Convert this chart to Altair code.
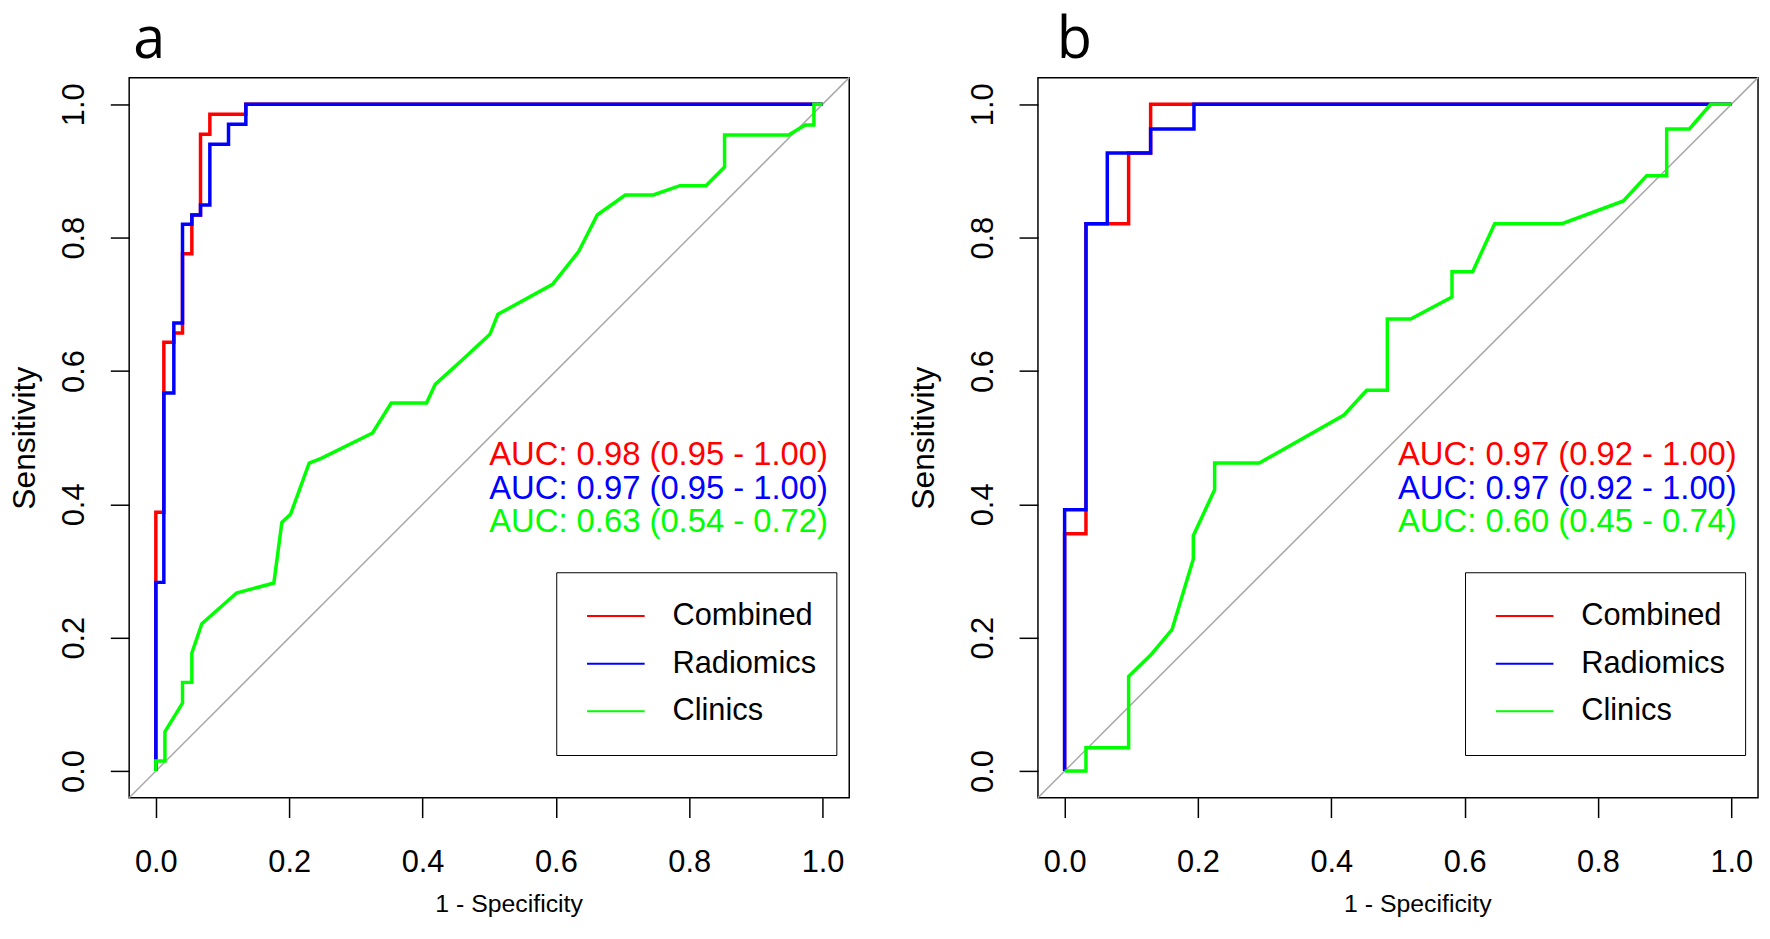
import altair as alt
import pandas as pd

FONT = "Liberation Sans"
TITLE_FONT = "Open Sans"

MODELS = ["Combined", "Radiomics", "Clinics"]
COLORS = ["#FF0000", "#0000FF", "#00FF00"]

AXIS_LIMITS = [-0.04, 1.04]
TICKS = [0.0, 0.2, 0.4, 0.6, 0.8, 1.0]

# ---------------- panel a ----------------
A_COMB_X = [0, 0, 0.012, 0.012, 0.027, 0.027, 0.040, 0.040, 0.054, 0.054, 0.067, 0.067, 0.081, 0.081, 0.135, 0.135, 1.0]
A_COMB_Y = [0, 0.388, 0.388, 0.643, 0.643, 0.657, 0.657, 0.776, 0.776, 0.834, 0.834, 0.955, 0.955, 0.985, 0.985, 1.0, 1.0]

A_RAD_X = [0, 0, 0.012, 0.012, 0.027, 0.027, 0.040, 0.040, 0.054, 0.054, 0.067, 0.067, 0.081, 0.081, 0.109, 0.109, 0.135, 0.135, 1.0]
A_RAD_Y = [0, 0.283, 0.283, 0.567, 0.567, 0.672, 0.672, 0.820, 0.820, 0.834, 0.834, 0.849, 0.849, 0.940, 0.940, 0.970, 0.970, 1.0, 1.0]

A_CLIN_X = [0, 0, 0.0136, 0.0136, 0.040, 0.040, 0.054, 0.054, 0.069, 0.121, 0.177, 0.189, 0.202, 0.230, 0.248, 0.325,
            0.353, 0.406, 0.419, 0.461, 0.501, 0.513, 0.595, 0.634, 0.662, 0.704, 0.746, 0.786, 0.825, 0.853, 0.853,
            0.949, 0.974, 0.987, 0.987, 1.0]
A_CLIN_Y = [0, 0.015, 0.015, 0.059, 0.102, 0.133, 0.133, 0.177, 0.221, 0.267, 0.282, 0.373, 0.385, 0.462, 0.469, 0.507,
            0.552, 0.552, 0.580, 0.618, 0.655, 0.685, 0.730, 0.779, 0.834, 0.864, 0.864, 0.878, 0.878, 0.906, 0.954,
            0.954, 0.969, 0.969, 1.0, 1.0]

A_AUC = ["AUC: 0.98 (0.95 - 1.00)", "AUC: 0.97 (0.95 - 1.00)", "AUC: 0.63 (0.54 - 0.72)"]

# ---------------- panel b ----------------
B_COMB_X = [0, 0, 0.032, 0.032, 0.096, 0.096, 0.129, 0.129, 1.0]
B_COMB_Y = [0, 0.356, 0.356, 0.821, 0.821, 0.927, 0.927, 1.0, 1.0]

B_RAD_X = [0, 0, 0.032, 0.032, 0.064, 0.064, 0.129, 0.129, 0.194, 0.194, 1.0]
B_RAD_Y = [0, 0.392, 0.392, 0.821, 0.821, 0.927, 0.927, 0.963, 0.963, 1.0, 1.0]

B_CLIN_X = [0, 0.032, 0.032, 0.096, 0.096, 0.129, 0.161, 0.193, 0.193, 0.225, 0.225, 0.292, 0.419, 0.453, 0.484,
            0.484, 0.519, 0.581, 0.581, 0.612, 0.645, 0.746, 0.838, 0.873, 0.903, 0.903, 0.937, 0.969, 1.0]
B_CLIN_Y = [0, 0, 0.035, 0.035, 0.142, 0.174, 0.212, 0.318, 0.353, 0.422, 0.462, 0.462, 0.534, 0.571, 0.571,
            0.678, 0.678, 0.711, 0.749, 0.749, 0.821, 0.821, 0.855, 0.893, 0.893, 0.963, 0.963, 1.0, 1.0]

B_AUC = ["AUC: 0.97 (0.92 - 1.00)", "AUC: 0.97 (0.92 - 1.00)", "AUC: 0.60 (0.45 - 0.74)"]

# AUC annotation anchor (data coordinates, as printed by pROC)
AUC_X = 0.5
AUC_Y = [0.50, 0.45, 0.40]


def make_panel(curves, auc_texts, letter, title_dx, y_title_pad):
    rows = []
    for model, (xs, ys) in zip(MODELS, curves):
        for i, (x, y) in enumerate(zip(xs, ys)):
            rows.append({"model": model, "fpr": x, "tpr": y, "idx": i})
    df = pd.DataFrame(rows)

    xaxis = alt.Axis(values=TICKS, format=".1f", domain=False, grid=False,
                     tickSize=20, tickWidth=1.5, tickColor="black",
                     labelFont=FONT, labelFontSize=31, labelColor="black",
                     labelPadding=30, labelBaseline="top", labelAlign="center",
                     labelFlush=False, labelOverlap=False,
                     titleFont=FONT, titleFontSize=25, titleFontWeight="normal",
                     titleColor="black", titleBaseline="alphabetic", titleAlign="center",
                     titleX=382, titleY=115)
    yaxis = alt.Axis(values=TICKS, format=".1f", domain=False, grid=False,
                     tickSize=19, tickWidth=1.5, tickColor="black",
                     labelFont=FONT, labelFontSize=31, labelColor="black",
                     labelAngle=270, labelAlign="center", labelBaseline="alphabetic",
                     labelPadding=27, labelFlush=False, labelOverlap=False,
                     titleFont=FONT, titleFontSize=32, titleFontWeight="normal",
                     titleColor="black", titleAngle=270, titleBaseline="alphabetic",
                     titlePadding=y_title_pad, minExtent=76, maxExtent=76)

    xenc = alt.X("fpr:Q", scale=alt.Scale(domain=AXIS_LIMITS, nice=False, zero=False),
                 axis=xaxis, title="1 - Specificity")
    yenc = alt.Y("tpr:Q", scale=alt.Scale(domain=AXIS_LIMITS, nice=False, zero=False),
                 axis=yaxis, title="Sensitivity")
    cscale = alt.Scale(domain=MODELS, range=COLORS)

    legend = alt.Legend(title=None, orient="none", legendX=430, legendY=498,
                        direction="vertical", symbolType="stroke",
                        symbolSize=3364, symbolStrokeWidth=2, symbolOffset=10,
                        labelFont=FONT, labelFontSize=31, labelColor="black",
                        labelOffset=27, labelLimit=400, rowPadding=0, clipHeight=48,
                        padding=20, strokeColor="black", fillColor="white")

    diag = alt.Chart(pd.DataFrame({"fpr": AXIS_LIMITS, "tpr": AXIS_LIMITS})).mark_line(
        color="#A9A9A9", strokeWidth=1.5).encode(x=xenc, y=yenc)

    layers = [diag]
    for model in MODELS:
        layers.append(
            alt.Chart(df).transform_filter(alt.datum.model == model).mark_line(
                strokeWidth=3.5).encode(
                x=xenc, y=yenc, order="idx:Q",
                color=alt.Color("model:N", scale=cscale, legend=legend))
        )

    tdf = pd.DataFrame({"model": MODELS, "label": auc_texts, "fpr": [AUC_X] * 3, "tpr": AUC_Y})
    text = alt.Chart(tdf).mark_text(align="left", baseline="top", font=FONT, fontSize=33, dy=2).encode(
        x=xenc, y=yenc, text="label:N",
        color=alt.Color("model:N", scale=cscale, legend=None))
    layers.append(text)

    return alt.layer(*layers).properties(
        width=725, height=725,
        title=alt.TitleParams(letter, anchor="start", frame="group", font=TITLE_FONT,
                              fontSize=58, fontWeight="normal", color="black",
                              baseline="alphabetic", offset=-41, dx=title_dx),
    )


pa = make_panel([(A_COMB_X, A_COMB_Y), (A_RAD_X, A_RAD_Y), (A_CLIN_X, A_CLIN_Y)], A_AUC, "a", 4, 19)
pb = make_panel([(B_COMB_X, B_COMB_Y), (B_RAD_X, B_RAD_Y), (B_CLIN_X, B_CLIN_Y)], B_AUC, "b", 19, 29)

chart = alt.hconcat(pa, pb, spacing=190, bounds="flush").resolve_legend(
    color="independent").configure_view(stroke="black", strokeWidth=1.5).properties(
    padding={"left": 0, "right": 0, "top": 0, "bottom": 0}, background="white")

chart.save("out.html", embed_options={"renderer": "svg", "actions": False})
